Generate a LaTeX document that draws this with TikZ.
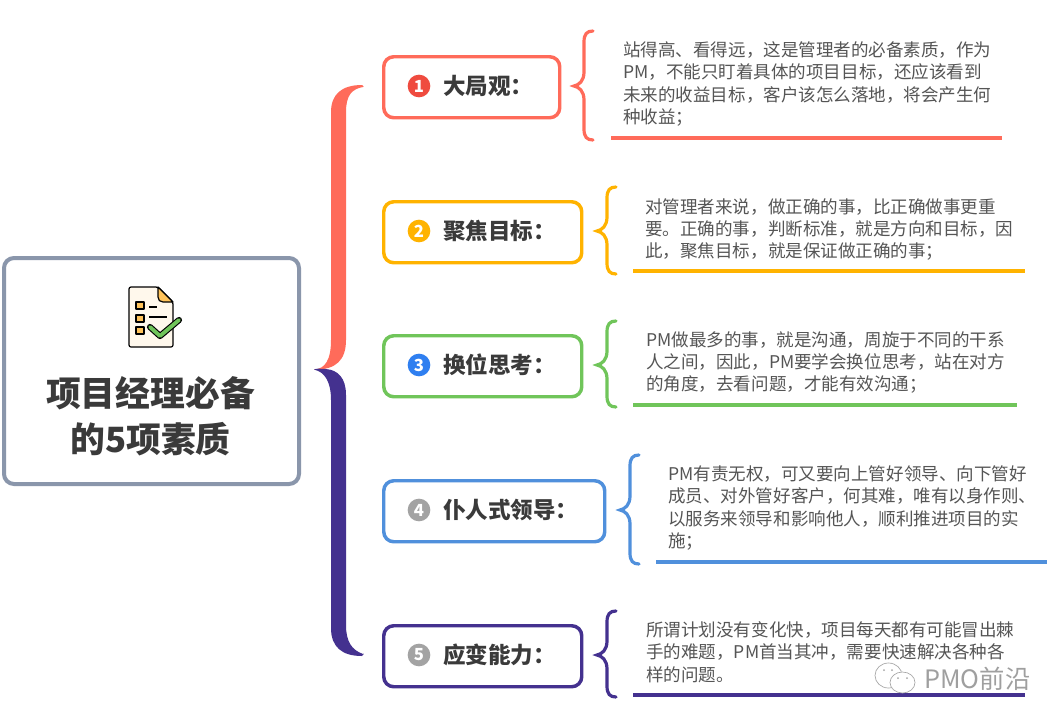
\documentclass[tikz,border=0pt]{standalone}
\usepackage{fontspec}
\setmainfont{Noto Sans CJK SC}
\definecolor{cred}{HTML}{FF6B5A}
\definecolor{cyel}{HTML}{FFB300}
\definecolor{cgrn}{HTML}{70C55A}
\definecolor{cblu}{HTML}{5090DC}
\definecolor{cpur}{HTML}{44318F}
\definecolor{croot}{HTML}{8A96AB}
\definecolor{ctxt}{HTML}{555555}
\definecolor{chead}{HTML}{3A3A3A}
\definecolor{bred}{HTML}{EF4B3F}
\definecolor{bblu}{HTML}{2F7FF0}
\definecolor{bgry}{HTML}{A3A3A3}
\definecolor{iconbg}{HTML}{FFF8EC}
\definecolor{iconor}{HTML}{FFC35A}
\tikzset{
  rootbox/.style={draw=croot,line width=3pt,rounded corners=7.5pt,fill=white},
  headbox/.style={line width=2.6pt,rounded corners=7.5pt,fill=white},
  headtext/.style={inner sep=0pt,anchor=west,text=chead,font=\fontsize{16.9pt}{20pt}\selectfont\bfseries},
  bodytext/.style={inner sep=0pt,anchor=west,align=left,text=ctxt,font=\fontsize{13.15pt}{16.75pt}\selectfont},
  badge/.style={circle,inner sep=0pt,minimum size=17pt,text=white,font=\fontsize{12.5pt}{12.5pt}\selectfont\bfseries},
  bracestroke/.style={line width=2.4pt,line cap=round},
  underl/.style={line width=3pt},
  iconline/.style={draw=black,line width=0.9pt,line join=round},
  wmline/.style={draw=gray!70,line width=0.5pt,fill=white}
}
\newcommand{\rowbox}[6]{%
  \node[headbox,draw=#2,minimum width={(#3-384)*0.75pt},minimum height=45.75pt,inner sep=0pt,anchor=north west] (box#1) at (382,#4-1) {};
  \node[badge,fill=#5] (bad#1) at (419,#4+30) {#1};
  \node[headtext] (head#1) at (443,#4+29.5) {#6};
}
\newcommand{\rowbrace}[6]{%
  \pgfmathsetmacro\rX{#3}\pgfmathsetmacro\rU{#4}\pgfmathsetmacro\rM{#5}\pgfmathsetmacro\rD{#6}
  \pgfmathsetmacro\rP{\rX+10}\pgfmathsetmacro\rQ{\rX+19}
  \coordinate (tip#1) at (\rX,\rM);
  \coordinate (top#1) at (\rQ,\rU);
  \coordinate (bot#1) at (\rQ,\rD);
  \draw[bracestroke,draw=#2] (top#1) .. controls (\rX+13,\rU) and (\rP,\rU+3) .. (\rP,\rU+11) -- (\rP,\rM-14)
     .. controls (\rP,\rM-5) and (\rX+5,\rM-1) .. (tip#1)
     .. controls (\rX+5,\rM+1) and (\rP,\rM+5) .. (\rP,\rM+14) -- (\rP,\rD-11)
     .. controls (\rP,\rD-3) and (\rX+13,\rD) .. (bot#1);
}
\newcommand{\rowline}[5]{%
  \coordinate (ua#1) at (#3,#5);
  \coordinate (ub#1) at (#4,#5);
  \draw[underl,draw=#2] (ua#1) -- (ub#1);
}
\begin{document}
\begin{tikzpicture}[x=0.75pt,y=-0.75pt]
\useasboundingbox (0,0) rectangle (1064,726);
\fill[white] (0,0) rectangle (1064,726);
% root
\node[rootbox,minimum width=221.25pt,minimum height=169.5pt,inner sep=0pt] (root) at (151.5,371) {};
\node[inner sep=0pt,align=center,text=chead,font=\fontsize{26.1pt}{34.5pt}\selectfont\bfseries] (title) at (150.5,416) {项目经理必备\\的5项素质};
% icon
\draw[iconline,fill=iconbg,rounded corners=1.5pt] (129,287) -- (158,287) -- (173,302) -- (173,347) -- (129,347) -- cycle;
\draw[iconline,fill=iconor] (158,287) -- (173,302) -- (163,302) .. controls (160,302) and (158,300) .. (158,297) -- cycle;
\foreach \yy in {302,315,327}{\draw[iconline,fill=iconor] (136,\yy) rectangle (144,\yy+7);}
\draw[iconline] (149,307) -- (157,307);
\draw[iconline] (149,317) -- (167,317);
\draw[line width=4.6pt,black,line join=round,line cap=round] (150,327) -- (160,336) -- (179,320);
\draw[line width=2.9pt,cgrn,line join=round,line cap=round] (150,327) -- (160,336) -- (179,320);
% large braces
\coordinate (junc) at (314,369.5);
\coordinate (rtop) at (363,87);
\coordinate (pbot) at (363,654);
\fill[cred] (junc) .. controls (325,369) and (331,360) .. (331,340) -- (331,112)
  .. controls (331,94) and (342,85) .. (362,85) .. controls (364,85) and (364,88.5) .. (rtop)
  .. controls (352,89) and (346,95) .. (346,112) -- (346,340) .. controls (346,360) and (336,370) .. (junc) -- cycle;
\fill[cpur] (junc) .. controls (316,368) and (322,369) .. (326,369) .. controls (338,370) and (346,378) .. (346,395) -- (346,625)
  .. controls (346,642) and (352,650) .. (pbot) .. controls (364,652) and (364,656) .. (362,656)
  .. controls (342,656) and (331,647) .. (331,628) -- (331,400) .. controls (331,382) and (325,372) .. (junc) -- cycle;
% items
\rowbox{1}{cred}{560}{56}{bred}{大局观：}
\rowbrace{1}{cred}{574}{31}{86}{140}
\node[bodytext] (txt1) at (623,84) {站得高、看得远，这是管理者的必备素质，作为\\PM，不能只盯着具体的项目目标，还应该看到\\未来的收益目标，客户该怎么落地，将会产生何\\种收益；};
\rowline{1}{cred}{611}{1002}{138}
\rowbox{2}{cyel}{582}{201}{cyel}{聚焦目标：}
\rowbrace{2}{cyel}{597}{187}{231}{274}
\node[bodytext] (txt2) at (645,229.5) {对管理者来说，做正确的事，比正确做事更重\\要。正确的事，判断标准，就是方向和目标，因\\此，聚焦目标，就是保证做正确的事；};
\rowline{2}{cyel}{633}{1025}{271}
\rowbox{3}{cgrn}{582}{335}{bblu}{换位思考：}
\rowbrace{3}{cgrn}{597}{321}{365}{407}
\node[bodytext] (txt3) at (646,362.5) {PM做最多的事，就是沟通，周旋于不同的干系\\人之间，因此，PM要学会换位思考，站在对方\\的角度，去看问题，才能有效沟通；};
\rowline{3}{cgrn}{633}{1017}{405}
\rowbox{4}{cblu}{605}{480}{bgry}{仆人式领导：}
\rowbrace{4}{cblu}{620}{455}{510}{564}
\node[bodytext] (txt4) at (668,508) {PM有责无权，可又要向上管好领导、向下管好\\成员、对外管好客户，何其难，唯有以身作则、\\以服务来领导和影响他人，顺利推进项目的实\\施；};
\rowline{4}{cblu}{656}{1047}{562}
\rowbox{5}{cpur}{582}{625}{bgry}{应变能力：}
\rowbrace{5}{cpur}{597}{611}{655}{697}
\node[bodytext] (txt5) at (646,652) {所谓计划没有变化快，项目每天都有可能冒出棘\\手的难题，PM首当其冲，需要快速解决各种各\\样的问题。};
\rowline{5}{cpur}{633}{1025}{695}
% watermark
\draw[wmline] (888.5,675.5) ellipse [x radius=13.5,y radius=12.5];
\draw[wmline] (902.5,682.5) ellipse [x radius=12.5,y radius=10.5];
\fill[gray!70] (884,670) circle (1) (892,670) circle (1) (898,678) circle (1) (907,678) circle (1);
\node[inner sep=0pt,anchor=west,text=gray!75,font=\fontsize{19pt}{22pt}\selectfont] (wm) at (924,679) {PMO前沿};
\end{tikzpicture}
\end{document}
